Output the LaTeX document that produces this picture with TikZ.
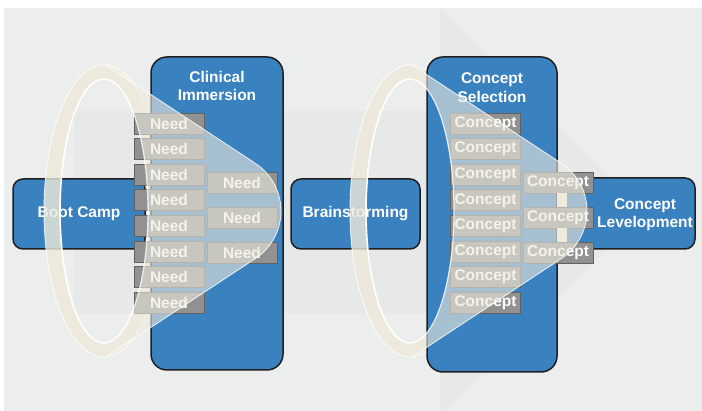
\documentclass[tikz,border=0pt]{standalone}
\usepackage{fontspec}
\setmainfont{Liberation Sans}
\usepackage{xcolor}
\definecolor{stageblue}{RGB}{58,129,192}
\definecolor{panelgray}{RGB}{236,237,237}
\definecolor{arrowgray}{RGB}{231,232,232}
\definecolor{itemgray}{RGB}{145,145,145}
\definecolor{ringbeige}{RGB}{238,234,218}
\definecolor{conefill}{RGB}{238,235,222}
\usepackage{tikz}
\usetikzlibrary{positioning}

\tikzset{
  stage/.style={draw=black!88, line width=1.5pt, fill=stageblue, rounded corners=#1,
    text=white, font=\fontsize{15.5}{18}\selectfont\bfseries, align=center},
  stage/.default=10pt,
  stagetext/.style={text=white, font=\fontsize{15.5}{18.5}\selectfont\bfseries, align=center},
  item/.style={draw=black!62, line width=0.9pt, fill=itemgray, minimum width=70pt,
    minimum height=21pt, inner sep=0pt, text=white, font=\fontsize{15.5}{18}\selectfont\bfseries},
}

\begin{document}
\begin{tikzpicture}[x=1pt, y=-1pt]
  \useasboundingbox (0,0) rectangle (702,411);
  % panel and the big arrow behind everything
  \fill[panelgray] (4,8) rectangle (702,411);
  \fill[arrowgray] (74,111) -- (440,111) -- (440,8) -- (644,212) -- (445,411)
    -- (440,411) -- (440,314) -- (74,314) -- cycle;

  % side stages
  \node[stage, minimum width=132pt, minimum height=70pt] (bootcamp) at (79,214) {Boot Camp};
  \node[stage, minimum width=129pt, minimum height=70pt] (brainstorm) at (355.5,214) {Brainstorming};

  % back rings of the two funnels
  \foreach \cx in {104,410}{
    \fill[ringbeige, opacity=0.8, even odd rule]
      (\cx,211) ellipse [x radius=60, y radius=146]
      (\cx,211) ellipse [x radius=44, y radius=132];
    \draw[white, opacity=0.8, line width=0.9pt] (\cx,211) ellipse [x radius=60, y radius=146];
    \draw[white, line width=1.6pt] (\cx,211) ellipse [x radius=44, y radius=132];
  }

  % tall stages
  \node[stage=16pt, minimum width=132pt, minimum height=313pt] (clinical) at (217,213.5) {};
  \node[stagetext] (clinicaltitle) at (217,86) {Clinical\\Immersion};
  \node[stage=16pt, minimum width=130pt, minimum height=315pt] (selection) at (492,214.5) {};
  \node[stagetext] (selectiontitle) at (492,87.5) {Concept\\Selection};
  \node[stage, minimum width=135pt, minimum height=71pt] (levelop) at (627.5,213.5) {};
  \node[stagetext] (levelopment) at (645,214.5) {Concept\\Levelopment};

  % needs and concepts
  \foreach \i in {0,...,7}{
    \node[item] (need\i) at (169,{123.5+25.6*\i}) {Need};
    \node[item] (cpt\i) at (485.5,{123.5+25.6*\i}) {Concept};
  }
  \foreach \i in {0,1,2}{
    \node[item] (needb\i) at (242,{182.5+35*\i}) {Need};
    \node[item] (cptb\i) at (558,{182.5+35*\i}) {Concept};
  }
  \fill[ringbeige] ([xshift=-1pt]cptb0.south) rectangle ([xshift=9pt]cptb1.north);
  \fill[ringbeige] ([xshift=-1pt]cptb1.south) rectangle ([xshift=9pt]cptb2.north);

  % front cones
  \foreach \cx in {104,410}{
    \fill[conefill, opacity=0.6]
      (\cx+2,65) -- (\cx+151.3,163.3) arc [start angle=-56.7, end angle=56.7, radius=57]
      -- (\cx+2,357) -- (\cx,343) arc [start angle=90, end angle=-90, x radius=44, y radius=132]
      -- cycle;
    \draw[white, opacity=0.85, line width=0.8pt]
      (\cx+2,65) -- (\cx+151.3,163.3) arc [start angle=-56.7, end angle=56.7, radius=57]
      -- (\cx+2,357);
    \draw[white, opacity=0.8, line width=1.2pt]
      (\cx,79) arc [start angle=-90, end angle=90, x radius=44, y radius=132];
  }
\end{tikzpicture}
\end{document}
